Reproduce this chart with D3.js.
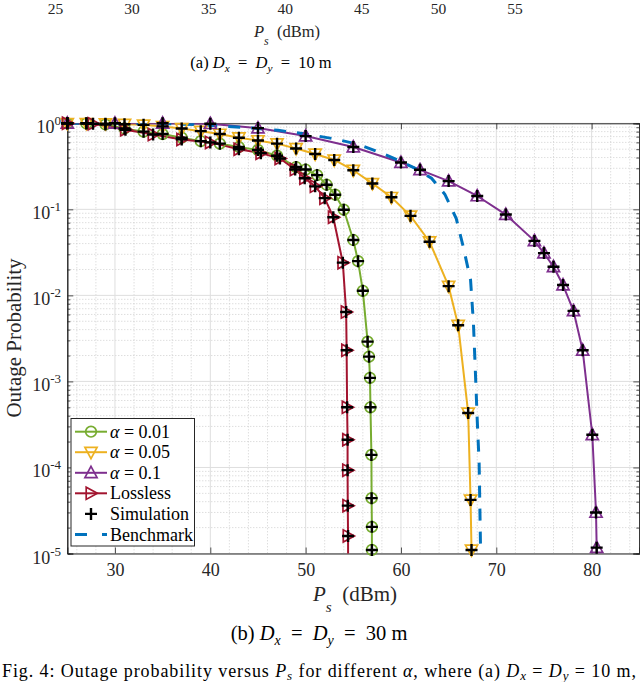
<!DOCTYPE html>
<html><head><meta charset="utf-8">
<script src="https://cdn.jsdelivr.net/npm/d3@7"></script>
<style>
html,body{margin:0;padding:0;background:#fff;}
svg{display:block;}
svg text{font-family:"Liberation Serif","Times New Roman",serif;}
</style></head>
<body><svg id="c" width="640" height="682"></svg>
<script>
// ---------- data ----------
const seriesNames = ["α = 0.01", "α = 0.05", "α = 0.1", "Lossless"];
const seriesColors = ["#77AC30", "#EDB120", "#7E2F8E", "#A2142F"];
const seriesMarkers = ["circle", "down", "up", "right"];

const psA001 = [25,27,29,31,33,35,37,39,41,43,45,47,49,50,51.2,52.2,53.1,54,55,55.5,56,56.5,56.65,56.75,56.8,56.9,56.92,56.95,56.95,56.96];
const opA001 = [1.0,0.995,0.97,0.87,0.80,0.75,0.68,0.62,0.58,0.53,0.49,0.42,0.31,0.29,0.25,0.193,0.148,0.099,0.044,0.025,0.0113,2.9e-3,1.94e-3,1.1e-3,5e-4,1.4e-4,4.4e-5,2.04e-5,1.1e-5,5e-6];

const psA005 = [25,27,29,31,33,35,37,39,41,43,45,47,49,51,53,55,57,59,61,63,65,66,67.05,67.3,67.4,67.45];
const opA005 = [1.0,1.0,0.99,0.975,0.96,0.92,0.87,0.81,0.75,0.68,0.63,0.58,0.51,0.44,0.375,0.285,0.20,0.138,0.084,0.042,0.0128,4.5e-3,4.3e-4,4.2e-5,1.1e-5,5e-6];

const psA01 = [25,30,35,40,45,50,55,60,62,65,68,71,74,75,76,77,78.1,79.06,80.07,80.46,80.53,80.6];
const opA01 = [1.0,1.0,1.0,0.99,0.88,0.71,0.53,0.35,0.288,0.213,0.143,0.087,0.043,0.031,0.0215,0.0132,6.6e-3,2.3e-3,2.4e-4,3.0e-5,1.17e-5,5e-6];

const psLossless = [25,27.7,31.1,34,37,40,43,45.3,47.3,48.9,49.9,51,52,52.9,53.9,54.25,54.3,54.35,54.4,54.4,54.42,54.45,54.46];
const opLossless = [1.0,0.99,0.84,0.74,0.65,0.60,0.50,0.45,0.39,0.29,0.23,0.185,0.135,0.081,0.024,6.4e-3,2.3e-3,5e-4,2.1e-4,9.3e-5,3.6e-5,1.6e-5,5e-6];

const psBench = [25,30,34.7,38.9,44.5,47.1,50,53,55.5,58,60,61.5,63.2,64.6,65.8,66.5,67.3,67.6,67.8,68.0,68.2,68.35,68.4];
const opBench = [1.0,1.0,0.995,0.963,0.88,0.83,0.75,0.66,0.57,0.45,0.36,0.30,0.23,0.15,0.078,0.038,0.0151,4.8e-3,1.35e-3,3.55e-4,1.12e-4,1.1e-5,5e-6];

const xTicks = [30,40,50,60,70,80];
const yTickExps = [0,-1,-2,-3,-4,-5];
const topTicks = [25,30,35,40,45,50,55];   // partial axis of panel (a)

// ---------- layout ----------
const svg = d3.select("#c");
const L = 67.3, R = 639.3, T = 123.3, B = 553.5;
const x = d3.scaleLinear().domain([25,85]).range([L,R]);
const y = d3.scaleLog().domain([1e-5,1]).range([B,T]);
const xTop = d3.scaleLinear().domain([25,55]).range([55.5,515]);

const axisColor = "#262626";
const FF = '"Liberation Serif","Times New Roman",serif';

svg.append("defs").append("clipPath").attr("id","clip")
  .append("rect").attr("x",L).attr("y",T).attr("width",R-L).attr("height",B-T);

// minor grid
const gGrid = svg.append("g");
const minorX = d3.range(26,85,2).filter(v => v%10 !== 0);
gGrid.selectAll(".mx").data(minorX).enter().append("line")
  .attr("x1",d=>x(d)).attr("x2",d=>x(d)).attr("y1",T).attr("y2",B)
  .attr("stroke","#c4c4c4").attr("stroke-width",0.8).attr("stroke-dasharray","1,2");
const minorY = [];
for (let e=-5; e<0; e++) for (let k=2; k<=9; k++) minorY.push(k*Math.pow(10,e));
gGrid.selectAll(".my").data(minorY).enter().append("line")
  .attr("x1",L).attr("x2",R).attr("y1",d=>y(d)).attr("y2",d=>y(d))
  .attr("stroke","#c4c4c4").attr("stroke-width",0.8).attr("stroke-dasharray","1,2");
// major grid
gGrid.selectAll(".Mx").data(xTicks).enter().append("line")
  .attr("x1",d=>x(d)).attr("x2",d=>x(d)).attr("y1",T).attr("y2",B)
  .attr("stroke","#dedede").attr("stroke-width",1);
gGrid.selectAll(".My").data(yTickExps).enter().append("line")
  .attr("x1",L).attr("x2",R).attr("y1",d=>y(Math.pow(10,d))).attr("y2",d=>y(Math.pow(10,d)))
  .attr("stroke","#dedede").attr("stroke-width",1);

// axes (ticks inward, box on)
const gx = svg.append("g").attr("transform",`translate(0,${B})`)
  .call(d3.axisBottom(x).tickValues(xTicks).tickSize(-6).tickPadding(10).tickFormat(d3.format("d")));
const gxTop = svg.append("g").attr("transform",`translate(0,${T})`)
  .call(d3.axisTop(x).tickValues(xTicks).tickSize(-6).tickFormat(""));
const gy = svg.append("g").attr("transform",`translate(${L},0)`)
  .call(d3.axisLeft(y).tickValues(yTickExps.map(e=>Math.pow(10,e))).tickSize(-6).tickFormat(""));
const gyR = svg.append("g").attr("transform",`translate(${R},0)`)
  .call(d3.axisRight(y).tickValues(yTickExps.map(e=>Math.pow(10,e))).tickSize(-6).tickFormat(""));
const gyMinor = svg.append("g").attr("transform",`translate(${L},0)`)
  .call(d3.axisLeft(y).tickValues(minorY).tickSize(-3).tickFormat(""));
const gyMinorR = svg.append("g").attr("transform",`translate(${R},0)`)
  .call(d3.axisRight(y).tickValues(minorY).tickSize(-3).tickFormat(""));
[gx,gxTop,gy,gyR,gyMinor,gyMinorR].forEach(g=>{
  g.attr("font-family",FF);
  g.selectAll("path.domain").attr("stroke",axisColor).attr("stroke-width",1);
  g.selectAll(".tick line").attr("stroke",axisColor).attr("stroke-width",0.8);
  g.selectAll("text").attr("font-family",FF).attr("font-size",18).attr("fill","#262626");
});
gx.selectAll("text").attr("dy","0.71em");

// y tick labels 10^k
const ylab = svg.append("g");
yTickExps.forEach(e=>{
  const t = ylab.append("text").attr("x",61).attr("y",y(Math.pow(10,e))+10)
    .attr("text-anchor","end").attr("font-size",18).attr("fill","#262626");
  t.append("tspan").text("10");
  t.append("tspan").attr("font-size",13).attr("dy",-8).text(String(e));
});

// lines
const series = [
  {ps:psA001, op:opA001},
  {ps:psA005, op:opA005},
  {ps:psA01,  op:opA01},
  {ps:psLossless, op:opLossless}
];
const line = d3.line().x(d=>x(d[0])).y(d=>y(d[1]));
const gLines = svg.append("g").attr("clip-path","url(#clip)");
series.forEach((s,i)=>{
  const pts = s.ps.map((p,j)=>[p,s.op[j]]);
  gLines.append("path").attr("d",line(pts)).attr("fill","none")
    .attr("stroke",seriesColors[i]).attr("stroke-width",2).attr("stroke-linejoin","round");
});
const benchPts = psBench.map((p,j)=>[p,opBench[j]]);
gLines.append("path").attr("d",line(benchPts)).attr("fill","none")
  .attr("stroke","#0072BD").attr("stroke-width",3).attr("stroke-dasharray","12,11");

// markers
function markerPath(kind){
  const s = 6.4;
  if (kind==="up") return `M0,${-s}L${s*0.95},${s*0.75}L${-s*0.95},${s*0.75}Z`;
  if (kind==="down") return `M0,${s}L${s*0.95},${-s*0.75}L${-s*0.95},${-s*0.75}Z`;
  if (kind==="right") return `M${s},0L${-s*0.75},${s*0.95}L${-s*0.75},${-s*0.95}Z`;
  return null;
}
function drawMarker(g, kind, cx, cy, color){
  if (kind==="circle") {
    g.append("circle").attr("cx",cx).attr("cy",cy).attr("r",5.3)
      .attr("fill","none").attr("stroke",color).attr("stroke-width",1.7);
  } else if (kind==="plus") {
    g.append("path").attr("d",`M${cx-6},${cy}H${cx+6}M${cx},${cy-6}V${cy+6}`)
      .attr("stroke","#000").attr("stroke-width",2.4).attr("fill","none");
  } else {
    g.append("path").attr("d",markerPath(kind)).attr("transform",`translate(${cx},${cy})`)
      .attr("fill","none").attr("stroke",color).attr("stroke-width",1.7).attr("stroke-linejoin","miter");
  }
}
const gMarks = svg.append("g");
series.forEach((s,i)=>{
  s.ps.forEach((p,j)=>{
    if (s.op[j] < 1e-5) return;
    drawMarker(gMarks, seriesMarkers[i], x(p), y(s.op[j]), seriesColors[i]);
  });
});
// simulation points
series.forEach((s,i)=>{
  s.ps.forEach((p,j)=>{
    if (s.op[j] < 1e-5) return;
    drawMarker(gMarks, "plus", x(p), y(s.op[j]), "#000");
  });
});

// legend
const lg = svg.append("g");
lg.append("rect").attr("x",71).attr("y",418.5).attr("width",123.5).attr("height",127.5)
  .attr("fill","#fff").attr("stroke",axisColor).attr("stroke-width",1);
const rowsY = [431.7,452.2,472.8,493.3,513.9,534.5];
const legendNames = seriesNames.concat(["Simulation","Benchmark"]);
legendNames.forEach((name,i)=>{
  const ry = rowsY[i];
  if (i<4) {
    lg.append("line").attr("x1",75).attr("x2",107).attr("y1",ry).attr("y2",ry)
      .attr("stroke",seriesColors[i]).attr("stroke-width",2);
    drawMarker(lg, seriesMarkers[i], 91, ry, seriesColors[i]);
  } else if (i===4) {
    drawMarker(lg, "plus", 91, ry, "#000");
  } else {
    lg.append("line").attr("x1",75).attr("x2",107).attr("y1",ry).attr("y2",ry)
      .attr("stroke","#0072BD").attr("stroke-width",3).attr("stroke-dasharray","12,15");
  }
  const t = lg.append("text").attr("x",110).attr("y",ry+6).attr("font-size",18).attr("fill","#000");
  if (i<3) {
    t.append("tspan").attr("font-style","italic").text("α");
    t.append("tspan").text(" = " + name.split("= ")[1]);
  } else t.text(name);
});

// axis labels
svg.append("text").attr("transform","translate(21,338) rotate(-90)")
  .attr("text-anchor","middle").attr("font-size",21).attr("fill","#262626").text("Outage Probability");

function psLabel(cx, by, fs){
  const t = svg.append("text").attr("x",cx).attr("y",by).attr("text-anchor","middle")
    .attr("font-size",fs).attr("fill","#262626");
  t.append("tspan").attr("font-style","italic").text("P");
  t.append("tspan").attr("font-style","italic").attr("font-size",fs*0.72).attr("dy",fs*0.5).text("s");
  t.append("tspan").attr("dy",-fs*0.5).text("\u2002(dBm)");
}
psLabel(355, 601, 21);
psLabel(287, 37, 16.5);

function subCaption(cx, by, prefix, val, fs){
  const t = svg.append("text").attr("x",cx).attr("y",by).attr("text-anchor","middle")
    .attr("font-size",fs).attr("fill","#000");
  const sub = fs*0.68, d = fs*0.22;
  t.append("tspan").text(prefix + " ");
  t.append("tspan").attr("font-style","italic").text("D");
  t.append("tspan").attr("font-style","italic").attr("font-size",sub).attr("dy",d).text("x");
  t.append("tspan").attr("dy",-d).text("\u2002=\u2002");
  t.append("tspan").attr("font-style","italic").text("D");
  t.append("tspan").attr("font-style","italic").attr("font-size",sub).attr("dy",d).text("y");
  t.append("tspan").attr("dy",-d).text("\u2002=\u2002" + val + " m");
}
subCaption(261, 68, "(a)", "10", 16.5);
subCaption(319, 640, "(b)", "30", 20.5);

// top partial tick labels of panel (a)
svg.append("g").selectAll("text").data(topTicks).enter().append("text")
  .attr("x",d=>xTop(d)).attr("y",13.5).attr("text-anchor","middle")
  .attr("font-size",15.5).attr("fill","#262626").text(d=>d);

// figure caption
const cap = svg.append("text").attr("x",2).attr("y",677).attr("font-size",18).attr("fill","#000")
  .attr("textLength",634).attr("lengthAdjust","spacing");
cap.append("tspan").text("Fig. 4: Outage probability versus ");
cap.append("tspan").attr("font-style","italic").text("P");
cap.append("tspan").attr("font-style","italic").attr("font-size",13).attr("dy",3).text("s");
cap.append("tspan").attr("dy",-3).text(" for different ");
cap.append("tspan").attr("font-style","italic").text("α");
cap.append("tspan").text(", where (a) ");
cap.append("tspan").attr("font-style","italic").text("D");
cap.append("tspan").attr("font-style","italic").attr("font-size",13).attr("dy",3).text("x");
cap.append("tspan").attr("dy",-3).text(" = ");
cap.append("tspan").attr("font-style","italic").text("D");
cap.append("tspan").attr("font-style","italic").attr("font-size",13).attr("dy",3).text("y");
cap.append("tspan").attr("dy",-3).text(" = 10 m,");
</script></body></html>
